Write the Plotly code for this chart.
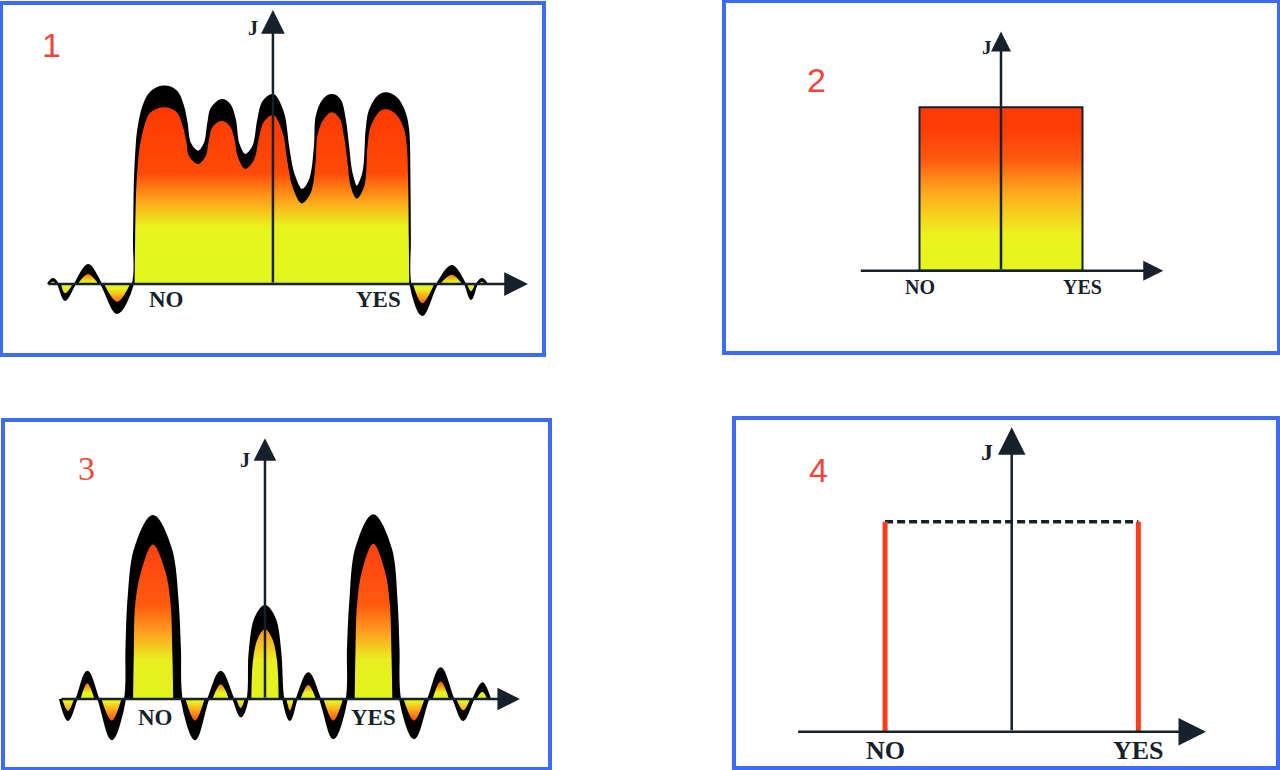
import plotly.graph_objects as go

# ---- shared labels
AXIS_NAME = "J"
OPTIONS = ["NO", "YES"]
OPTION_X = [-1, 1]          # NO / YES positions on the horizontal axis
PANEL_NUMBERS = ["1", "2", "3", "4"]

# ---- panel 1 : broad plateau with ripples (x: NO=-1, YES=+1, J normalised)
p1_x = [-2.123, -2.075, -2.028, -1.962, -1.868, -1.745, -1.620, -1.469, -1.321,
        -1.311, -1.302, -1.288, -1.271, -1.224, -1.160, -1.035, -0.908, -0.846,
        -0.814, -0.783, -0.705, -0.642, -0.610, -0.578, -0.484, -0.406, -0.358,
        -0.327, -0.264, -0.186, -0.139, -0.092, 0.003, 0.097, 0.144, 0.192,
        0.271, 0.349, 0.396, 0.412, 0.475, 0.554, 0.632, 0.679, 0.710, 0.742,
        0.790, 0.852, 0.884, 0.915, 1.009, 1.073, 1.167, 1.245, 1.276, 1.288,
        1.292, 1.297, 1.408, 1.549, 1.690, 1.812, 1.869, 1.925, 1.972, 2.019]
p1_j = [0, 0.026, 0, -0.083, 0, 0.099, 0, -0.151, 0,
        0.229, 0.542, 0.698, 0.802, 0.923, 0.993, 1.028, 1.002, 0.923,
        0.837, 0.733, 0.689, 0.733, 0.837, 0.915, 0.958, 0.932, 0.854,
        0.733, 0.672, 0.715, 0.854, 0.949, 0.984, 0.889, 0.715, 0.577,
        0.490, 0.542, 0.715, 0.871, 0.958, 0.984, 0.958, 0.854, 0.715, 0.577,
        0.507, 0.577, 0.802, 0.906, 0.984, 0.993, 0.967, 0.889, 0.802, 0.542,
        0.229, 0, -0.161, 0, 0.094, 0, -0.078, 0, 0.026, 0]

p1_flame_x = [-1.305, -1.300, -1.290, -1.275, -1.255, -1.210, -1.160, -1.035, -0.908,
              -0.850, -0.818, -0.790, -0.705, -0.635, -0.605, -0.572, -0.484, -0.410,
              -0.365, -0.333, -0.264, -0.180, -0.132, -0.085, 0.003, 0.090, 0.137,
              0.185, 0.271, 0.357, 0.403, 0.420, 0.480, 0.554, 0.627, 0.672, 0.703,
              0.735, 0.790, 0.860, 0.892, 0.922, 1.009, 1.073, 1.160, 1.235, 1.263,
              1.276, 1.282, 1.286]
p1_flame_j = [0, 0.229, 0.490, 0.620, 0.720, 0.830, 0.890, 0.920, 0.895,
              0.820, 0.745, 0.665, 0.625, 0.665, 0.745, 0.815, 0.850, 0.825,
              0.760, 0.665, 0.600, 0.645, 0.760, 0.845, 0.880, 0.790, 0.635,
              0.505, 0.420, 0.475, 0.635, 0.775, 0.860, 0.895, 0.865, 0.765, 0.635,
              0.505, 0.445, 0.505, 0.715, 0.820, 0.900, 0.910, 0.885, 0.810, 0.720,
              0.530, 0.229, 0]

p1_lobe_x = [-2.104, -2.075, -2.047, None, -2.0, -1.962, -1.887, None,
             -1.840, -1.745, -1.648, None, -1.592, -1.469, -1.347, None,
             1.322, 1.408, 1.521, None, 1.577, 1.690, 1.784, None,
             1.831, 1.869, 1.906, None, 1.944, 1.972, 2.0]
p1_lobe_j = [0, 0.013, 0, None, 0, -0.048, 0, None,
             0, 0.052, 0, None, 0, -0.092, 0, None,
             0, -0.100, 0, None, 0, 0.048, 0, None,
             0, -0.038, 0, None, 0, 0.012, 0]

# ---- panel 2 : ideal rectangle between NO and YES
p2_x = [-1, -1, 1, 1, -1]
p2_j = [0, 1, 1, 0, 0]

# ---- panel 3 : two main peaks at NO / YES plus a central peak and side lobes
p3_x = [-1.881, -1.807, -1.728, -1.630, -1.529, -1.406, -1.284, -1.271, -1.252,
        -1.193, -1.028, -0.862, -0.803, -0.780, -0.764, -0.642, -0.520, -0.406,
        -0.291, -0.223, -0.159, -0.142, -0.092, 0.0, 0.092, 0.142, 0.168,
        0.229, 0.291, 0.397, 0.505, 0.627, 0.750, 0.761, 0.784, 0.835, 0.994,
        1.156, 1.206, 1.225, 1.239, 1.367, 1.498, 1.612, 1.728, 1.819, 1.911,
        1.994, 2.064]
p3_j = [0, -0.115, 0, 0.149, 0, -0.220, 0, 0.273, 0.546,
        0.820, 1.0, 0.820, 0.546, 0.273, 0, -0.220, 0, 0.149,
        0, -0.095, 0, 0.246, 0.437, 0.508, 0.437, 0.246, 0,
        -0.115, 0, 0.140, 0, -0.215, 0, 0.273, 0.546, 0.820, 1.005,
        0.820, 0.546, 0.273, 0, -0.215, 0, 0.168, 0, -0.115, 0,
        0.086, 0]

p3_peak_x = [-1.210, -1.203, -1.190, -1.135, -1.028, -0.915, -0.866, -0.850, -0.842, None,
             -0.125, -0.110, -0.066, 0.0, 0.066, 0.110, 0.125, None,
             0.823, 0.830, 0.845, 0.890, 0.994, 1.100, 1.145, 1.160, 1.168]
p3_peak_j = [0, 0.260, 0.520, 0.700, 0.845, 0.700, 0.520, 0.260, 0, None,
             0, 0.210, 0.330, 0.382, 0.330, 0.210, 0, None,
             0, 0.260, 0.520, 0.700, 0.848, 0.700, 0.520, 0.260, 0]

p3_lobe_x = [-1.862, -1.807, -1.752, None, -1.692, -1.630, -1.565, None,
             -1.500, -1.406, -1.317, None, -0.729, -0.642, -0.555, None,
             -0.481, -0.406, -0.331, None, -0.263, -0.223, -0.186, None,
             0.196, 0.229, 0.263, None, 0.326, 0.397, 0.467, None,
             0.537, 0.627, 0.715, None, 1.271, 1.367, 1.463, None,
             1.537, 1.612, 1.688, None, 1.755, 1.819, 1.882, None,
             1.939, 1.994, 2.038]
p3_lobe_j = [0, -0.066, 0, None, 0, 0.086, 0, None,
             0, -0.118, 0, None, 0, -0.118, 0, None,
             0, 0.080, 0, None, 0, -0.050, 0, None,
             0, -0.062, 0, None, 0, 0.076, 0, None,
             0, -0.118, 0, None, 0, -0.118, 0, None,
             0, 0.096, 0, None, 0, -0.062, 0, None,
             0, 0.040, 0]

# ---- panel 4 : two sharp lines at NO and YES
p4_x = [-1, 1]
p4_j = [1, 1]

BLUE = "#3d6cf2"
INK = "#16212c"
NUM_RED = "#f0473a"
LINE_RED = "#fb3d1c"

FLAME = [[0, "#e0f71e"], [0.3, "#e8f31e"], [0.45, "#ff9a18"],
         [0.58, "#ff4a08"], [1, "#ff3400"]]
LOBE = [[0, "#ff4c10"], [0.3, "#ffb020"], [0.5, "#e4f41c"],
        [0.72, "#e4f41c"], [1, "#ff5010"]]

fig = go.Figure()

# panel 1
fig.add_trace(go.Scatter(x=p1_x, y=p1_j, mode="lines", line=dict(color="black", width=2, shape="spline"),
                         fill="tozeroy", fillcolor="black", xaxis="x", yaxis="y"))
fig.add_trace(go.Scatter(x=p1_flame_x, y=p1_flame_j, mode="lines", line=dict(width=0, shape="spline"),
                         fill="tozeroy", fillgradient=dict(type="vertical", colorscale=FLAME, start=0, stop=1),
                         xaxis="x", yaxis="y"))
fig.add_trace(go.Scatter(x=p1_lobe_x, y=p1_lobe_j, mode="lines", line=dict(width=0, shape="spline"),
                         fill="tozeroy", fillgradient=dict(type="vertical", colorscale=LOBE, start=-0.11, stop=0.06),
                         xaxis="x", yaxis="y"))

# panel 2
fig.add_trace(go.Scatter(x=p2_x, y=p2_j, mode="lines", line=dict(color=INK, width=2),
                         fill="toself",
                         fillgradient=dict(type="vertical", start=0, stop=1,
                                           colorscale=[[0, "#e4f51e"], [0.22, "#ecf21e"], [0.48, "#ffa81e"],
                                                       [0.68, "#ff5a10"], [0.85, "#ff3e08"], [1, "#ff3a06"]]),
                         xaxis="x2", yaxis="y2"))

# panel 3
fig.add_trace(go.Scatter(x=p3_x, y=p3_j, mode="lines", line=dict(color="black", width=2, shape="spline"),
                         fill="tozeroy", fillcolor="black", xaxis="x3", yaxis="y3"))
fig.add_trace(go.Scatter(x=p3_peak_x, y=p3_peak_j, mode="lines", line=dict(width=0, shape="spline"),
                         fill="tozeroy",
                         fillgradient=dict(type="vertical", start=0, stop=0.86,
                                           colorscale=[[0, "#e2f41c"], [0.25, "#e8ee20"], [0.42, "#ffa020"],
                                                       [0.6, "#ff5a10"], [1, "#ff4010"]]),
                         xaxis="x3", yaxis="y3"))
fig.add_trace(go.Scatter(x=p3_lobe_x, y=p3_lobe_j, mode="lines", line=dict(width=0, shape="spline"),
                         fill="tozeroy", fillgradient=dict(type="vertical", colorscale=LOBE, start=-0.12, stop=0.095),
                         xaxis="x3", yaxis="y3"))

# panel 4
fig.add_trace(go.Scatter(x=p4_x, y=p4_j, mode="lines", line=dict(color=INK, width=3.5, dash="8px,4px"),
                         xaxis="x4", yaxis="y4"))
for xv, jv in zip(p4_x, p4_j):
    fig.add_trace(go.Scatter(x=[xv, xv], y=[0, jv], mode="lines", line=dict(color=LINE_RED, width=5),
                             xaxis="x4", yaxis="y4"))

# panel geometry: frame domains, ranges, arrow ends, label spots
panels = [
    dict(ax="", dx=[0.0023, 0.4234], dy=[0.5416, 0.9935], rx=[-2.547, 2.538], ry=[-0.359, 1.453],
         xtail=-2.132, xtip=2.406, jtip=1.427, jlab=(-0.185, 1.335), lab_y=-0.083, lab_size=23,
         j_size=20, num=(-2.085, 1.245), num_font="Liberation Sans", head=1.9),
    dict(ax="2", dx=[0.5672, 0.9977], dy=[0.5442, 0.9961], rx=[-3.374, 3.387], ry=[-0.491, 1.638],
         xtail=-1.739, xtip=1.991, jtip=1.463, jlab=(-0.175, 1.363), lab_y=-0.100, lab_size=20,
         j_size=19, num=(-2.258, 1.167), num_font="Liberation Sans", head=1.6),
    dict(ax="3", dx=[0.0039, 0.4281], dy=[0.0039, 0.4519], rx=[-2.385, 2.596], ry=[-0.372, 1.514],
         xtail=-1.881, xtip=2.339, jtip=1.426, jlab=(-0.180, 1.306), lab_y=-0.104, lab_size=23,
         j_size=20, num=(-1.633, 1.262), num_font="Liberation Serif", head=1.8),
    dict(ax="4", dx=[0.575, 0.9969], dy=[0.0052, 0.4545], rx=[-2.177, 2.087], ry=[-0.163, 1.484],
         xtail=-1.698, xtip=1.534, jtip=1.450, jlab=(-0.195, 1.332), lab_y=-0.087, lab_size=26,
         j_size=24, num=(-1.529, 1.246), num_font="Liberation Sans", head=2.2),
]

annotations = []
layout_axes = {}
for i, p in enumerate(panels):
    xr, yr = "x" + p["ax"], "y" + p["ax"]
    common = dict(showgrid=False, zeroline=False, showticklabels=False, ticks="",
                  showline=True, mirror=True, linecolor=BLUE, linewidth=4, fixedrange=True)
    layout_axes["xaxis" + p["ax"]] = dict(domain=p["dx"], range=p["rx"], anchor=yr, **common)
    layout_axes["yaxis" + p["ax"]] = dict(domain=p["dy"], range=p["ry"], anchor=xr, **common)

    # horizontal and J axes with arrow heads
    annotations.append(dict(xref=xr, yref=yr, axref=xr, ayref=yr, x=p["xtip"], y=0, ax=p["xtail"], ay=0,
                            text="", showarrow=True, arrowhead=2, arrowsize=p["head"], arrowwidth=2.5,
                            arrowcolor=INK))
    annotations.append(dict(xref=xr, yref=yr, axref=xr, ayref=yr, x=0, y=p["jtip"], ax=0, ay=0,
                            text="", showarrow=True, arrowhead=2, arrowsize=p["head"], arrowwidth=2.5,
                            arrowcolor=INK))
    annotations.append(dict(xref=xr, yref=yr, x=p["jlab"][0], y=p["jlab"][1], text="<b>" + AXIS_NAME + "</b>",
                            showarrow=False, font=dict(family="Liberation Serif", size=p["j_size"], color=INK)))
    for name, xv in zip(OPTIONS, OPTION_X):
        annotations.append(dict(xref=xr, yref=yr, x=xv, y=p["lab_y"], text="<b>" + name + "</b>",
                                showarrow=False, font=dict(family="Liberation Serif", size=p["lab_size"], color=INK)))
    annotations.append(dict(xref=xr, yref=yr, x=p["num"][0], y=p["num"][1], text=PANEL_NUMBERS[i],
                            showarrow=False, font=dict(family=p["num_font"], size=34, color=NUM_RED)))

fig.update_layout(
    width=1280, height=770,
    margin=dict(l=0, r=0, t=0, b=0),
    paper_bgcolor="white", plot_bgcolor="white",
    showlegend=False,
    annotations=annotations,
    **layout_axes
)

fig.write_html("out.html", config={"displayModeBar": False},
               post_script="document.body.style.margin='0';document.body.style.overflow='hidden';")
